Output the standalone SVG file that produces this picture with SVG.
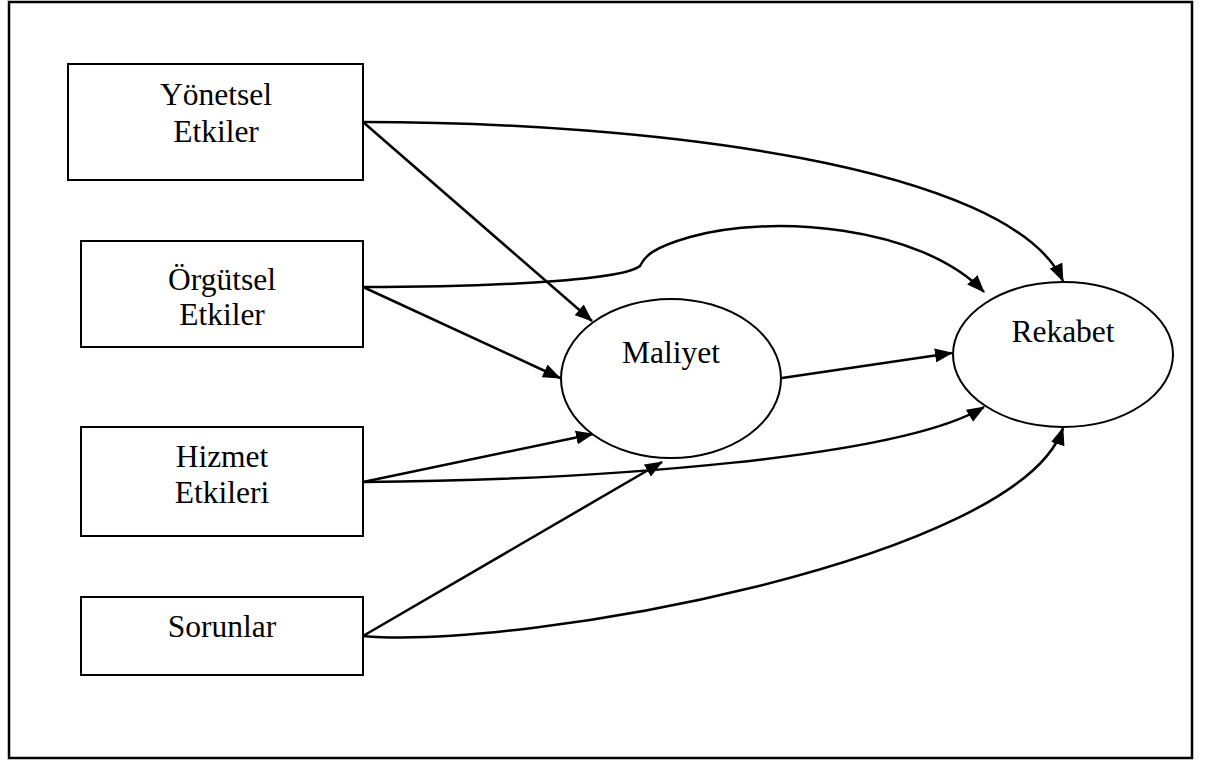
<svg xmlns="http://www.w3.org/2000/svg" width="1208" height="762" viewBox="0 0 1208 762">
  <style>
    .frame { fill: #fff; stroke: #000; stroke-width: 2.5; }
    .box { fill: #fff; stroke: #000; stroke-width: 2; }
    .oval { fill: #fff; stroke: #000; stroke-width: 2; }
    .lbl { font-family: "Liberation Serif", "Times New Roman", serif; font-size: 31.5px; fill: #000; text-anchor: middle; }
    .edge { fill: none; stroke: #000; stroke-width: 2.5; marker-end: url(#head); }
  </style>
  <defs>
    <marker id="head" markerUnits="userSpaceOnUse" viewBox="0 0 18 14" refX="17" refY="7" markerWidth="18" markerHeight="14" orient="auto">
      <path d="M0,0 L18,7 L0,14 Z" fill="#000"/>
    </marker>
  </defs>

  <!-- outer frame -->
  <rect class="frame" x="9" y="2" width="1183" height="756"/>

  <!-- connectors -->
  <g id="connectors">
    <path class="edge" d="M363,122 L592,321"/>
    <path class="edge" d="M363,122 C650,122 1010,165 1063,281"/>
    <path class="edge" d="M363,287 C470,287 620,282 640,266 C645,256 652,248 690,237 C770,214 920,225 984,292"/>
    <path class="edge" d="M363,287 L560,378"/>
    <path class="edge" d="M363,482 L593,434"/>
    <path class="edge" d="M363,482 C600,480 900,458 984,407"/>
    <path class="edge" d="M363,636 L662,462"/>
    <path class="edge" d="M363,636 C520,650 1020,560 1063,428"/>
    <path class="edge" d="M782,378 L952,353"/>
  </g>

  <!-- source boxes -->
  <g id="yonetsel">
    <rect class="box" x="68" y="64" width="295" height="116"/>
    <text class="lbl" x="216" y="105">Yönetsel</text>
    <text class="lbl" x="216" y="142">Etkiler</text>
  </g>
  <g id="orgutsel">
    <rect class="box" x="81" y="241" width="282" height="106"/>
    <text class="lbl" x="222" y="290">Örgütsel</text>
    <text class="lbl" x="222" y="325">Etkiler</text>
  </g>
  <g id="hizmet">
    <rect class="box" x="81" y="427" width="282" height="109"/>
    <text class="lbl" x="222" y="467">Hizmet</text>
    <text class="lbl" x="222" y="503">Etkileri</text>
  </g>
  <g id="sorunlar">
    <rect class="box" x="81" y="597" width="282" height="78"/>
    <text class="lbl" x="222" y="637">Sorunlar</text>
  </g>

  <!-- outcome ellipses -->
  <g id="maliyet">
    <ellipse class="oval" cx="671" cy="378.5" rx="110" ry="79.5"/>
    <text class="lbl" x="671" y="363">Maliyet</text>
  </g>
  <g id="rekabet">
    <ellipse class="oval" cx="1063" cy="354.5" rx="110" ry="72.5"/>
    <text class="lbl" x="1063" y="342">Rekabet</text>
  </g>
</svg>
